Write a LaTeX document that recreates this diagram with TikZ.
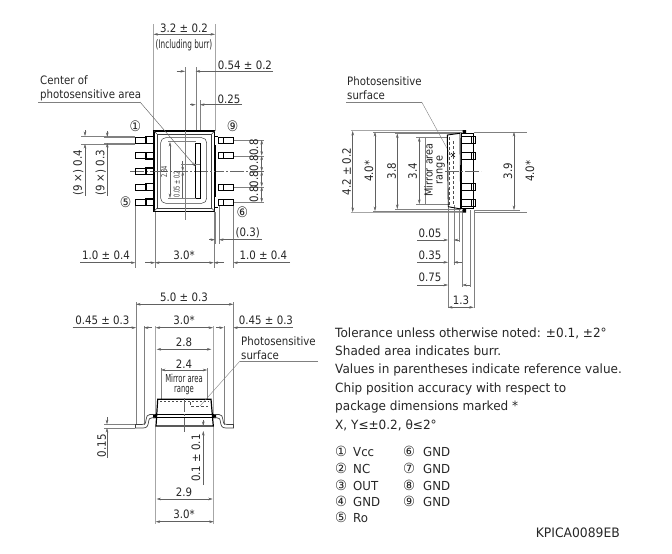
\documentclass[tikz,border=0pt]{standalone}
\usepackage{fontspec}
\setmainfont[FakeStretch=0.88]{DejaVu Sans}
\newfontfamily\narrowf[FakeStretch=0.62]{DejaVu Sans}
\newfontfamily\notef[FakeStretch=0.95]{DejaVu Sans}
\usetikzlibrary{arrows.meta}
\colorlet{dimc}{black!62}
\newcommand{\pin}[2]{\makebox[18pt][l]{\fontsize{14}{14}\selectfont #1}{\fontsize{12.4}{14}\selectfont #2}}
\tikzset{
  x=1pt,y=-1pt,
  dimline/.style={draw=dimc,line width=0.45pt},
  dimarr/.style={dimline,{Stealth[length=4.5pt,width=2.6pt]}-{Stealth[length=4.5pt,width=2.6pt]}},
  arrto/.style={dimline,-{Stealth[length=4.5pt,width=2.6pt]}},
  extline/.style={draw=black!50,line width=0.4pt},
  burrline/.style={draw=black!35,line width=1pt},
  center line/.style={draw=black!60,line width=0.4pt,dash pattern=on 14pt off 2pt on 2pt off 2pt},
  outline/.style={draw=black,line width=0.9pt},
  heavy/.style={draw=black,line width=1.5pt},
  thinbody/.style={draw=black!75,line width=0.5pt},
  hidden/.style={draw=black!70,line width=0.6pt,dash pattern=on 3pt off 2pt},
  lab/.style={inner sep=0pt,font=\fontsize{11.6}{13}\selectfont,text=black!85},
  vlab/.style={lab,rotate=90},
  marklab/.style={inner sep=0pt,font=\fontsize{14.5}{15}\selectfont,text=black!85},
  note/.style={inner sep=0pt,anchor=base west,font=\notef\fontsize{12.7}{15}\selectfont,text=black!85},
  narrow/.style={inner sep=0pt,font=\narrowf\fontsize{11.8}{13}\selectfont,text=black!85},
  mirror/.style={inner sep=0pt,font=\narrowf\fontsize{11}{11}\selectfont,text=black!85},
  tiny/.style={inner sep=0pt,rotate=90,font=\narrowf\fontsize{8}{9}\selectfont,text=black!80},
}
\begin{document}
\begin{tikzpicture}
\useasboundingbox (0,0) rectangle (672,554);
% ---------- FRONT VIEW ----------
% extension lines
\draw[burrline] (153.5,24) -- (153.5,131) (215,24) -- (215,131);
\draw[extline] (185,67) -- (185,220);
\draw[extline] (195.7,67) -- (195.7,143) (200,100) -- (200,143);
\draw[extline] (81,136) -- (135,136) (81,144) -- (135,144);
\draw[extline] (104,137) -- (135,137) (104,143) -- (135,143);
\draw[extline] (233,140) -- (264,140) (233,155.7) -- (264,155.7) (233,186.7) -- (264,186.7) (233,202.3) -- (264,202.3);
\draw[center line] (130,171.3) -- (264,171.3);
\draw[extline] (135.3,206) -- (135.3,268) (155,212) -- (155,268) (213.7,212) -- (213.7,268) (233.3,206) -- (233.3,268);
\draw[extline] (219,205) -- (219,244) (215,212) -- (215,244);
% leads left
\foreach \yy in {137,152.7,168.3,184,199.3}{
  \draw[outline,line width=0.7pt] (135.3,\yy) rectangle (145,\yy+6);
  \draw[heavy] (146,\yy-0.4) rectangle (153.5,\yy+6.4);
}
% leads right
\foreach \yy in {137,152.7,184,199.3}{
  \draw[outline,line width=0.7pt] (223,\yy) rectangle (233,\yy+6);
  \draw[outline,line width=0.7pt] (218,\yy) rectangle (223,\yy+6);
}
\draw[outline,line width=0.6pt] (215,136) -- (218,136) (215,207) -- (218,207);
\draw[draw=black,line width=0.9pt] (218,137) -- (218,143) (218,199.3) -- (218,205.3);
\draw[heavy] (215.6,145) -- (215.6,197);
% body
\draw[draw=black,line width=1.5pt,fill=white] (154,131) rectangle (214.7,211.3);
\draw[thinbody] (157,134) rectangle (211.7,208.3);
\draw[thinbody,rounded corners=5pt] (160.7,137.7) rectangle (206.7,203.3);
\draw[thinbody] (154,131) -- (157,134) (214.7,131) -- (211.7,134) (154,211.3) -- (157,208.3) (214.7,211.3) -- (211.7,208.3);
\draw[extline] (185,131) -- (185,212);
\draw[center line] (154,171.3) -- (215,171.3);
\draw[draw=black,line width=0.7pt] (195.7,143.3) rectangle (200,198.3);
% dims inside
\draw[dimarr] (170,142) -- (170,198);
\draw[extline] (168,141.5) -- (196,141.5) (168,198.3) -- (196,198.3);
\draw[arrto] (182.7,161) -- (182.7,171.3);
\draw[arrto] (182.7,198) -- (182.7,171.3);
\draw[extline] (181,164) -- (200,164);
\node[tiny] (t284) at (164.3,171.7) {2.84};
\node[tiny] (t005) at (176.7,184) {0.05 ± 0.2};
% leader
\coordinate (cpA) at (38,102);
\coordinate (cpB) at (140,102);
\coordinate (cpC) at (195.7,166.7);
\draw[extline] (cpA) -- (cpB);
\draw[arrto] (cpB) -- (cpC);
\node[lab,anchor=base west] (cp1) at (40,84) {Center of};
\node[lab,anchor=base west] (cp2) at (40,98.5) {photosensitive area};
% top dims
\draw[dimarr] (153.5,34.3) -- (215,34.3);
\node[lab] (d32) at (184,28) {3.2 ± 0.2};
\node[narrow] (burr) at (184,45) {(Including burr)};
\draw[arrto] (176.7,71.3) -- (185,71.3);
\draw[arrto] (273,71.3) -- (195.7,71.3);
\node[lab] (d054) at (245,65) {0.54 ± 0.2};
\draw[arrto] (190,104.7) -- (195.7,104.7);
\draw[arrto] (242,104.7) -- (200,104.7);
\node[lab] (d025) at (229,99) {0.25};
% left pitch
\draw[arrto] (85,130) -- (85,136);
\draw[arrto] (85,196) -- (85,144);
\node[vlab] (w04) at (78.3,173) {(9 ×) 0.4};
\draw[arrto] (107.3,131) -- (107.3,137);
\draw[arrto] (107.3,196) -- (107.3,143);
\node[vlab] (w03) at (100.7,173) {(9 ×) 0.3};
% right pitch
\draw[dimarr] (261.7,140) -- (261.7,155.7);
\draw[dimarr] (261.7,155.7) -- (261.7,171.3);
\draw[dimarr] (261.7,171.3) -- (261.7,186.7);
\draw[dimarr] (261.7,186.7) -- (261.7,202.3);
\node[vlab] (p1) at (254,147.6) {0.8};
\node[vlab] (p2) at (254,163.3) {0.8};
\node[vlab] (p3) at (254,179) {0.8};
\node[vlab] (p4) at (254,194.5) {0.8};
% pin marks
\node[marklab] (m1) at (135.3,126) {①};
\node[marklab] (m9) at (232.7,126) {⑨};
\node[marklab] (m5) at (125.7,202.7) {⑤};
\node[marklab] (m6) at (242.3,212.3) {⑥};
% 0.3
\draw[arrto] (209,239.7) -- (215,239.7);
\draw[arrto] (262,239.7) -- (219,239.7);
\node[lab] (d03) at (247.7,232.7) {(0.3)};
% bottom row
\draw[arrto] (80,262.7) -- (135.3,262.7);
\draw[arrto] (145,262.7) -- (155,262.7);
\draw[dimarr] (155,262.7) -- (213.7,262.7);
\draw[arrto] (224,262.7) -- (213.7,262.7);
\draw[arrto] (290,262.7) -- (233.3,262.7);
\node[lab] (b1) at (106,255.7) {1.0 ± 0.4};
\node[lab] (b2) at (184,255.7) {3.0*};
\node[lab] (b3) at (263.3,255.7) {1.0 ± 0.4};
% ---------- SIDE VIEW ----------
\draw[burrline] (350.7,130.7) -- (463,130.7) (350.7,212.3) -- (463,212.3);
\draw[extline] (373,132.2) -- (462,132.2) (395,133.5) -- (460,133.5);
\draw[extline] (373,210.8) -- (462,210.8) (395,209) -- (460,209);
\draw[extline] (416,137.3) -- (447,137.3) (416,204) -- (449,204);
\draw[extline] (474,132) -- (526.7,132) (474,212.3) -- (526.7,212.3) (474,210) -- (520,210);
\draw[extline] (448,207) -- (448,308) (453.7,205) -- (453.7,265) (458.7,208) -- (458.7,242) (462.3,210) -- (462.3,287) (470.3,210) -- (470.3,287) (473.7,210) -- (473.7,308);
\draw[dimarr] (352.7,131) -- (352.7,212);
\node[vlab] (s42) at (346.7,171.7) {4.2 ± 0.2};
\draw[dimarr] (375,132) -- (375,211);
\node[vlab] (s40) at (369,171.2) {4.0*};
\draw[dimarr] (397.3,133.5) -- (397.3,209);
\node[vlab] (s38) at (391.7,171.2) {3.8};
\draw[dimarr] (419.3,137.3) -- (419.3,204);
\node[vlab] (s34) at (412.7,171.2) {3.4};
\draw[extline] (425,137.5) -- (425,204);
\node[vlab,font=\fontsize{11}{12}\selectfont] (sm1) at (428.5,170) {Mirror area};
\node[vlab,font=\fontsize{11}{12}\selectfont] (sm2) at (440.7,170) {range};
\draw[dimarr] (514,132) -- (514,210);
\node[vlab] (s39) at (508,171.2) {3.9};
\node[vlab] (s40b) at (530,171.2) {4.0*};
% photosensitive leader (side)
\coordinate (psA) at (346,102);
\coordinate (psB) at (421.7,102);
\coordinate (psC) at (450.7,155);
\draw[extline] (psA) -- (psB);
\draw[extline] (psB) -- (psC);
\node[lab,anchor=base west] (ps1) at (347,85.7) {Photosensitive};
\node[lab,anchor=base west] (ps2) at (347,99.5) {surface};
% side body
\draw[outline] (447.3,135) -- (460,133.3) -- (460.7,209) -- (448.3,206.7) -- cycle;
\foreach \yy in {136.7,152.3,183.3,199}{
  \draw[draw=black,line width=0.8pt] (471.5,\yy) rectangle (475.5,\yy+7);
}
\draw[outline,line width=1.1pt] (461.7,133.3) rectangle (473.3,208.3);
\foreach \yy in {136.7,152.3,183.3,199}{
  \draw[draw=black,line width=0.8pt] (461.7,\yy) rectangle (473.3,\yy+7);
}
\fill[black] (462.7,130) rectangle (466,133.5) (462.7,208.3) rectangle (466,212.5);
\draw[hidden] (453.3,141) -- (453.3,204);
\draw[hidden] (449.5,137) -- (449.5,205);
\draw[draw=black,line width=0.5pt] (451,153) -- (455,157) (451,157) -- (455,153);
\draw[center line] (445,171) -- (481,171);
% side bottom dims
\draw[arrto] (417.3,240) -- (448,240);
\draw[arrto] (459,240) -- (453.7,240);
\draw[arrto] (417.3,262.3) -- (448,262.3);
\draw[arrto] (462.3,262.3) -- (453.7,262.3);
\draw[arrto] (417.3,285) -- (448,285);
\draw[arrto] (470.3,285) -- (462.3,285);
\draw[dimarr] (448,307.3) -- (473.7,307.3);
\node[lab] (s005) at (430,233.3) {0.05};
\node[lab] (s035) at (430,255.7) {0.35};
\node[lab] (s075) at (430,277.7) {0.75};
\node[lab] (s13) at (461,300.7) {1.3};
% ---------- BOTTOM VIEW ----------
\draw[extline] (136,302) -- (136,425) (144,326) -- (144,425) (233.3,302) -- (233.3,425) (223.7,326) -- (223.7,425);
\draw[burrline] (155.7,326) -- (155.7,414) (213,326) -- (213,414);
\draw[extline] (161,368) -- (161,400) (207.3,368) -- (207.3,400);
\draw[burrline] (155.7,426) -- (155.7,524) (213.7,426) -- (213.7,524);
\draw[extline] (104,424.3) -- (135,424.3) (104,428) -- (135,428);
\draw[dimarr] (136,304.3) -- (233.3,304.3);
\node[lab] (u50) at (184,297.7) {5.0 ± 0.3};
\draw[arrto] (72.7,327.7) -- (136,327.7);
\draw[arrto] (152,327.7) -- (144,327.7);
\draw[dimarr] (155.7,327.7) -- (213,327.7);
\draw[arrto] (216,327.7) -- (223.7,327.7);
\draw[arrto] (293,327.7) -- (233.3,327.7);
\node[lab] (u45a) at (102.3,320) {0.45 ± 0.3};
\node[lab] (u30) at (184,320) {3.0*};
\node[lab] (u45b) at (266,320) {0.45 ± 0.3};
\draw[dimarr] (156.7,349.3) -- (211.3,349.3);
\node[lab] (u28) at (184,342.7) {2.8};
\draw[dimarr] (161,370) -- (207.3,370);
\node[lab] (u24) at (184,364) {2.4};
\node[mirror] (um1) at (184,378.5) {Mirror area};
\node[mirror] (um2) at (184,391) {range};
% bottom view body
\draw[outline,line width=1.2pt] (157.7,399.3) -- (211,399.3) -- (213.3,426) -- (156,426) -- cycle;
\draw[outline,line width=0.9pt] (155,414.7) -- (214,414.7);
\draw[outline,line width=0.7pt] (155,417.3) -- (214,417.3);
\fill[black] (153,414) rectangle (156.5,418) (212.5,414) rectangle (216,418);
\draw[thinbody,line width=0.7pt] (155,414.5) -- (150,414.5) .. controls (147,414.5) and (147,416) .. (146,420) .. controls (145.5,424) and (145,424.5) .. (142,424.5) -- (135.5,424.5) -- (135.5,428) -- (143,428) .. controls (147,428) and (148,426) .. (148.5,422) .. controls (149,418.5) and (150,417.8) .. (152,417.8) -- (155,417.8);
\draw[thinbody,line width=0.7pt] (214,414.5) -- (219,414.5) .. controls (222,414.5) and (222,416) .. (223,420) .. controls (223.5,424) and (224,424.5) .. (227,424.5) -- (233.5,424.5) -- (233.5,428) -- (226,428) .. controls (222,428) and (221,426) .. (220.5,422) .. controls (220,418.5) and (219,417.8) .. (217,417.8) -- (214,417.8);
\draw[hidden,line width=0.7pt,dash pattern=on 2pt off 2pt] (160,401.7) -- (209,401.7);
\draw[hidden,line width=0.5pt] (190,402) -- (190,406) -- (208,406);
\draw[center line] (184,398) -- (184,433);
% photosensitive (bottom)
\coordinate (upA) at (318,361);
\coordinate (upB) at (240,361);
\coordinate (upC) at (200,406);
\draw[extline] (upA) -- (upB);
\draw[extline] (upB) -- (upC);
\node[lab,anchor=base west] (up1) at (241,345.5) {Photosensitive};
\node[lab,anchor=base west] (up2) at (241,359) {surface};
% 0.15
\draw[arrto] (107,417) -- (107,424.3);
\draw[arrto] (107,458) -- (107,428);
\node[vlab] (u015) at (101.7,445.7) {0.15};
% 0.1
\draw[arrto] (203.3,420) -- (203.3,426);
\draw[arrto] (203.3,485) -- (203.3,431);
\node[vlab] (u01) at (196,458) {0.1 ± 0.1};
% 2.9 3.0
\draw[dimarr] (156.5,499) -- (212.7,499);
\node[lab] (u29) at (184,492) {2.9};
\draw[dimarr] (155.7,521.7) -- (213.7,521.7);
\node[lab] (u30b) at (184,514.3) {3.0*};
% ---------- NOTES ----------
\node[note] (n1) at (335,337.3) {Tolerance unless otherwise noted: ±0.1, ±2°};
\node[note] (n2) at (335,355.7) {Shaded area indicates burr.};
\node[note] (n3) at (335,373.7) {Values in parentheses indicate reference value.};
\node[note] (n4) at (335,392) {Chip position accuracy with respect to};
\node[note] (n5) at (335,410.3) {package dimensions marked *};
\node[note] (n6) at (335,429) {X, Y≤±0.2, θ≤2°};
\node[note] (l1) at (335,456.7) {\pin{①}{Vcc}};
\node[note] (l2) at (335,473.3) {\pin{②}{NC}};
\node[note] (l3) at (335,490) {\pin{③}{OUT}};
\node[note] (l4) at (335,506) {\pin{④}{GND}};
\node[note] (l5) at (335,522.3) {\pin{⑤}{Ro}};
\node[note] (l6) at (403,456.7) {\makebox[20pt][l]{\fontsize{14}{14}\selectfont ⑥}{\fontsize{12.4}{14}\selectfont GND}};
\node[note] (l7) at (403,473.3) {\makebox[20pt][l]{\fontsize{14}{14}\selectfont ⑦}{\fontsize{12.4}{14}\selectfont GND}};
\node[note] (l8) at (403,490) {\makebox[20pt][l]{\fontsize{14}{14}\selectfont ⑧}{\fontsize{12.4}{14}\selectfont GND}};
\node[note] (l9) at (403,506) {\makebox[20pt][l]{\fontsize{14}{14}\selectfont ⑨}{\fontsize{12.4}{14}\selectfont GND}};
\node[inner sep=0pt,anchor=base east,font=\notef\fontsize{13}{14}\selectfont,text=black!85] (code) at (620,537.3) {KPICA0089EB};
\end{tikzpicture}
\end{document}
